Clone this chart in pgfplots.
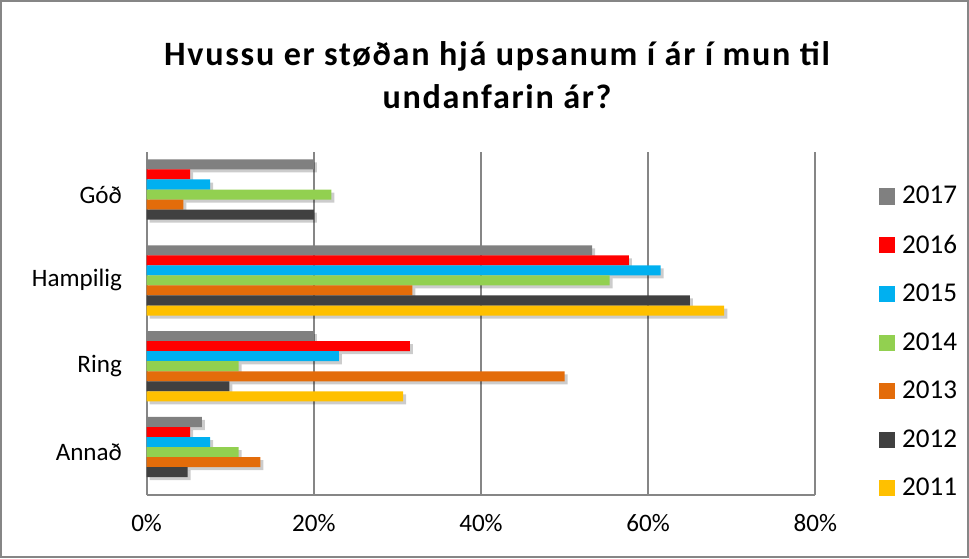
\documentclass[border=0pt]{standalone}
\usepackage{pgfplots}
\pgfplotsset{compat=1.18}
\usepackage{fontspec}
\setmainfont{Carlito}
\newfontfamily\titlefont[LetterSpace=5]{Carlito}
\usetikzlibrary{shadows}

\definecolor{c2017}{RGB}{128,128,128}
\definecolor{c2016}{RGB}{255,0,0}
\definecolor{c2015}{RGB}{0,176,240}
\definecolor{c2014}{RGB}{146,208,80}
\definecolor{c2013}{RGB}{227,108,10}
\definecolor{c2012}{RGB}{64,64,64}
\definecolor{c2011}{RGB}{255,192,0}
\definecolor{gridgray}{RGB}{134,134,134}

\tikzset{barshadow/.style={drop shadow={shadow xshift=1.5pt, shadow yshift=-1.5pt, opacity=0.2, fill=black}}}

\begin{document}
\begin{tikzpicture}
\begin{axis}[
  xbar, bar width=5pt,
  width=333pt, height=171pt, scale only axis,
  xmin=0, xmax=80, ymin=-0.5, ymax=3.5,
  xtick={0,20,40,60,80},
  xticklabel={\pgfmathprintnumber{\tick}\%},
  ytick={0,1,2,3},
  yticklabels={Annað,Ring,Hampilig,Góð},
  xmajorgrids,
  major grid style={gridgray, line width=1pt},
  axis x line*=bottom, axis y line*=left,
  axis line style={gridgray, line width=1pt},
  tick style={draw=none},
  tick label style={font=\fontsize{12.5}{15}\selectfont},
  xticklabel style={yshift=-6pt},
  yticklabel style={xshift=-4.5pt},
  /pgf/number format/assume math mode=true,
  clip=false,
  legend cell align=left,
  legend style={at={(1,1)}, anchor=north west, xshift=31.5pt, yshift=-16pt,
    draw=none, fill=none, inner sep=0pt, row sep=11.9pt,
    font=\fontsize{13.5}{16}\selectfont,
    nodes={inner xsep=3.5pt, inner ysep=1pt}},
  legend image code/.code={\fill[#1] (0pt,-4pt) rectangle (8pt,4pt);},
]
\addplot[forget plot, fill=c2017, draw=none, barshadow, bar shift=15pt] coordinates {(20,3) (53.3,2) (20,1) (6.6,0)};
\addplot[forget plot, fill=c2016, draw=none, barshadow, bar shift=10pt] coordinates {(5.2,3) (57.7,2) (31.5,1) (5.2,0)};
\addplot[forget plot, fill=c2015, draw=none, barshadow, bar shift=5pt] coordinates {(7.6,3) (61.5,2) (23,1) (7.6,0)};
\addplot[forget plot, fill=c2014, draw=none, barshadow, bar shift=0pt] coordinates {(22.1,3) (55.4,2) (11,1) (11,0)};
\addplot[forget plot, fill=c2013, draw=none, barshadow, bar shift=-5pt] coordinates {(4.4,3) (31.8,2) (50,1) (13.6,0)};
\addplot[forget plot, fill=c2012, draw=none, barshadow, bar shift=-10pt] coordinates {(20,3) (65,2) (9.9,1) (4.9,0)};
\addplot[forget plot, fill=c2011, draw=none, barshadow, bar shift=-15pt] coordinates {(69.1,2) (30.7,1)};
\addlegendimage{fill=c2017, draw=none}\addlegendentry{2017}
\addlegendimage{fill=c2016, draw=none}\addlegendentry{2016}
\addlegendimage{fill=c2015, draw=none}\addlegendentry{2015}
\addlegendimage{fill=c2014, draw=none}\addlegendentry{2014}
\addlegendimage{fill=c2013, draw=none}\addlegendentry{2013}
\addlegendimage{fill=c2012, draw=none}\addlegendentry{2012}
\addlegendimage{fill=c2011, draw=none}\addlegendentry{2011}
\end{axis}
\node[align=center, font=\titlefont\bfseries\fontsize{17}{21.5}\selectfont, xshift=8pt, yshift=38pt]
  at (current axis.north) {Hvussu er støðan hjá upsanum í ár í mun til\\undanfarin ár?};
\draw[gridgray, line width=1pt]
  ([xshift=-72.5pt, yshift=-31pt]current axis.south west) rectangle
  ([xshift=409pt, yshift=246pt]current axis.south west);
\end{tikzpicture}
\end{document}
